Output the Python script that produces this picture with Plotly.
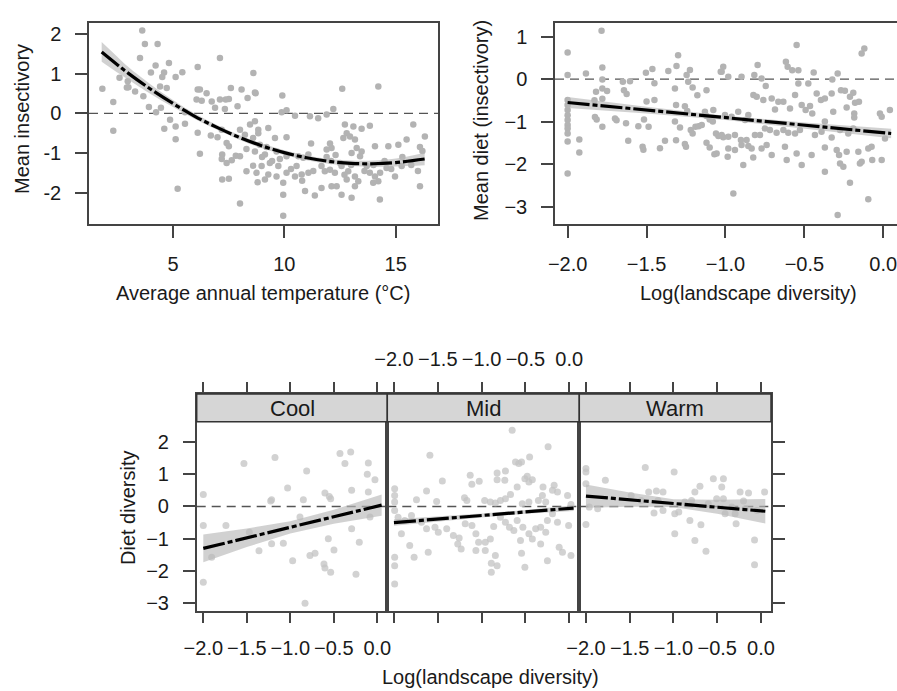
import plotly.graph_objects as go

# ---------------- data ----------------
# Panel A: mean insectivory vs average annual temperature
tl_x = [3.62,3.74,4.31,3.52,7.11,4.22,4.82,4.01,4.6,5.42,6.11,8.61,1.83,3.0,2.97,5.12,4.52,4.42,4.72,2.32,
        3.92,4.46,6.11,6.51,6.29,6.74,7.11,7.37,7.51,7.6,8.08,8.35,8.71,7.9,6.89,7.33,5.54,4.24,2.32,4.61,
        5.12,5.12,5.54,4.87,6.11,6.21,6.7,7.0,7.19,7.41,7.51,7.21,7.19,7.41,7.64,7.82,8.01,7.21,7.51,8.3,
        8.6,8.8,5.21,8.01,8.01,8.23,8.46,8.68,8.83,8.6,8.9,8.3,8.68,3.67,3.3,2.6,2.93,6.06,6.21,
        12.6,14.22,9.91,8.68,12.2,10.1,9.88,10.48,11.15,11.52,11.9,12.72,13.1,13.47,13.84,15.79,16.31,
        9.28,8.83,9.58,10.1,11.2,12.65,12.8,12.95,13.17,12.05,12.12,11.9,13.25,13.47,13.02,13.4,14.07,
        14.67,15.12,15.49,16.09,9.13,9.65,10.1,10.63,10.85,11.08,8.98,9.35,9.73,9.28,9.13,9.65,9.95,
        10.48,10.78,11.08,10.1,10.55,11.67,11.82,12.05,12.27,12.57,12.87,13.17,13.32,13.7,13.84,14.07,
        14.22,13.99,14.29,14.59,14.97,15.27,16.09,10.93,11.37,11.67,12.12,12.35,12.57,13.02,9.95,12.8,
        13.17,8.75,9.95,9.0,9.2,9.45,9.8,10.3,11.9,12.1,12.3,12.5,13.6,14.0,14.3,14.5,14.8,15.3,15.7,
        16.0,16.2,13.0,12.7,11.3,10.8]
tl_y = [2.09,1.75,1.75,1.40,1.40,1.21,1.27,1.03,1.03,1.04,1.17,1.02,0.62,0.66,0.81,0.92,0.92,0.68,0.64,0.29,
        0.16,0.14,0.60,0.51,0.32,0.30,0.35,0.35,0.36,0.64,0.60,0.39,0.51,0.18,0.14,0.11,0.03,0.03,-0.44,-0.39,
        -0.33,-0.65,-0.26,-0.16,-0.49,-1.02,-0.56,-0.6,-0.41,-0.75,-0.83,-1.04,-1.15,-1.25,-1.18,-1.07,-1.08,-1.67,-1.65,-1.46,
        -1.32,-1.74,-1.90,-2.27,-0.41,-0.54,-0.28,-0.2,-0.41,-0.62,-0.79,-0.9,-0.96,0.43,0.55,0.9,0.65,0.35,0.6,
        0.62,0.68,0.45,0.53,0.11,0.08,0.03,-0.06,-0.07,-0.12,-0.03,-0.28,-0.33,-0.39,-0.31,-0.28,-0.58,
        -0.37,-0.5,-0.62,-0.6,-0.76,-0.62,-0.5,-0.58,-0.66,-0.76,-0.87,-0.91,-0.87,-0.96,-1.0,-1.08,-0.83,
        -0.83,-0.79,-0.66,-0.85,-1.04,-0.96,-1.08,-1.08,-1.12,-1.04,-1.33,-1.25,-1.33,-1.54,-1.67,-1.59,-1.75,
        -1.59,-1.54,-1.5,-1.5,-1.33,-1.33,-1.46,-1.42,-1.5,-1.33,-1.46,-1.59,-1.71,-1.33,-1.5,-1.59,
        -1.71,-1.75,-2.17,-1.38,-1.59,-1.33,-1.84,-1.96,-2.07,-1.88,-1.84,-1.84,-2.05,-2.13,-2.58,-1.67,
        -1.84,-1.5,-2.05,-1.1,-0.85,-1.2,-1.15,-1.4,-1.1,-1.2,-1.05,-1.25,-1.45,-1.3,-1.5,-1.2,-1.4,-1.1,-1.3,
        -1.45,-0.95,-1.3,-1.55,-1.45,-1.7]
tl_fit_x = [1.8, 2.5, 3, 4, 5, 6, 7, 8, 9, 10, 11, 12, 13, 14, 15, 16.3]
tl_fit_y = [1.55, 1.23, 1.01, 0.61, 0.25, -0.08, -0.36, -0.61, -0.82, -0.99, -1.12, -1.21, -1.26, -1.27, -1.24, -1.15]
tl_fit_lo = [1.30, 1.03, 0.85, 0.49, 0.16, -0.15, -0.42, -0.67, -0.88, -1.05, -1.18, -1.27, -1.33, -1.35, -1.34, -1.31]
tl_fit_hi = [1.80, 1.43, 1.17, 0.73, 0.34, -0.01, -0.30, -0.55, -0.76, -0.93, -1.06, -1.15, -1.19, -1.19, -1.14, -0.99]

# Panel B: mean diet (insectivory) vs log landscape diversity
tr_x = [-1.785,-2.0,-2.0,-2.0,-2.0,-2.0,-2.0,-2.0,-2.0,-2.0,-2.0,-2.0,-2.0,-1.926,-1.926,-1.884,-1.78,
        -1.78,-1.78,-1.82,-1.75,-1.78,-1.83,-1.827,-1.816,-1.78,-1.65,-1.605,-1.643,-1.626,-1.7,-1.69,
        -1.63,-1.616,-1.552,-1.525,-1.52,-1.504,-1.463,-1.5,-1.45,-1.45,-1.516,-1.487,-1.415,-1.383,
        -1.362,-1.31,-1.3,-1.32,-1.313,-1.32,-1.288,-1.313,-1.257,-1.25,-1.246,-1.225,-1.236,-1.208,
        -1.178,-1.257,-1.242,-1.22,-1.208,-1.19,-1.17,-1.15,-1.12,-1.13,-1.12,-1.1,-1.12,-1.1,-1.07,
        -1.08,-1.06,-1.045,-1.014,-1.03,-1.014,-1.077,
        -0.549,-0.137,-0.12,-1.024,-0.982,-0.898,-0.817,-0.796,-0.771,-0.617,-0.606,-0.577,-0.538,
        -0.441,-0.289,-0.323,-0.745,-0.538,-0.475,-0.823,-0.802,-0.76,-0.707,-0.665,-0.633,-0.686,
        -0.591,-0.559,-0.517,-0.492,-0.464,-0.45,-0.422,-0.395,-0.37,-0.327,-0.268,-0.243,-0.211,-0.19,
        -0.179,-0.154,-0.317,-0.232,-0.184,-0.184,-0.021,-0.01,0.042,-1.003,-0.961,-0.919,-0.876,-0.855,
        -1.024,-0.982,-0.94,-0.902,-0.866,-0.813,-0.781,-0.75,-0.718,-0.676,-0.633,-0.602,-0.559,-0.528,
        -0.982,-0.94,-0.898,-0.855,-0.834,-0.771,-0.739,-1.056,-0.986,-0.887,-0.824,-0.707,-0.623,-0.612,
        -0.549,-0.517,-0.454,-0.37,-0.37,-0.295,-0.28,-0.274,-0.253,-0.232,-0.211,-0.158,-0.148,-0.137,
        -0.095,-0.074,-0.07,-0.01,-0.433,-0.391,-0.327,-0.274,-0.222,-0.19,-0.95,-0.095,-0.289,-0.37,0.011]
tr_y = [1.137,0.627,0.094,-0.49,-0.61,-0.73,-0.85,-0.96,-1.08,-1.16,-1.28,-1.47,-2.22,-1.42,-1.73,0.133,0.27,
        -0.01,-0.22,-0.3,-0.28,-0.46,-0.5,-0.89,-0.95,-1.12,-0.06,-0.05,-0.26,-0.35,-0.93,-0.97,
        -1.04,-1.45,-1.11,-1.59,-1.66,0.149,0.235,-0.53,-0.49,-0.1,-0.95,-1.12,-1.63,-1.45,
        0.188,0.306,0.564,-0.22,-0.61,-1.0,-1.14,-1.44,-1.53,-1.59,0.094,0.212,-0.06,-0.2,
        -0.38,-0.64,-0.75,-1.2,-1.28,-1.12,-1.11,-1.08,-0.26,-0.77,-0.87,-0.95,-1.5,-1.61,-1.77,
        -1.0,-1.28,-1.34,-1.37,0.17,0.29,-0.73,
        0.80,0.604,0.72,0.172,0.055,0.055,0.094,0.329,0.015,0.41,0.29,0.21,0.21,
        0.157,0.133,-0.008,-0.165,-0.102,-0.102,-0.377,-0.416,-0.49,-0.455,-0.534,-0.534,-0.714,
        -0.69,-0.377,-0.612,-0.73,-0.635,-0.808,-0.337,-0.494,-0.455,-0.337,-0.26,-0.275,-0.416,-0.322,
        -0.557,-0.533,-0.769,-0.667,-0.808,-0.902,-0.808,-0.886,-0.73,-0.847,-0.886,-0.769,-0.965,-0.847,
        -1.318,-1.357,-1.318,-1.436,-1.436,-1.318,-1.318,-1.16,-1.2,-1.263,-1.2,-1.263,-1.279,-1.2,
        -1.632,-1.67,-1.553,-1.577,-1.632,-1.632,-1.553,-1.75,-1.828,-2.024,-1.843,-1.788,-1.592,-1.906,
        -1.75,-2.024,-1.788,-1.608,-2.18,-1.67,-1.788,-1.984,-2.063,-1.71,-2.44,-1.71,-1.984,-1.945,
        -1.632,-1.592,-1.906,-1.906,-1.318,-1.239,-1.373,-1.2,-1.279,-1.161,-2.69,-2.83,-3.2,-1.0,-1.396]
tr_fit_x = [-2.0, -1.5, -1.0, -0.5, 0.05]
tr_fit_y = [-0.55, -0.73, -0.91, -1.09, -1.28]
tr_fit_lo = [-0.68, -0.81, -0.96, -1.16, -1.39]
tr_fit_hi = [-0.42, -0.65, -0.86, -1.02, -1.17]

# Panel C: diet diversity vs log landscape diversity, by temperature class
panel_names = ["Cool", "Mid", "Warm"]
cool_x = [-2.0,-2.0,-2.0,-1.904,-1.74,-1.533,-1.176,-1.471,-1.36,-1.226,-1.215,-1.215,-1.08,-1.031,-0.973,
          -0.85,-0.812,-0.831,-0.774,-0.716,-0.889,-0.602,-0.552,-0.536,-0.563,-0.613,-0.602,-0.536,-0.498,
          -0.429,-0.372,-0.306,-0.295,-0.295,-0.245,-0.207,-0.103,-0.115,-0.103,-0.027,-0.084]
cool_y = [0.373,-0.59,-2.35,-1.576,-0.59,1.327,1.514,-0.798,-1.37,0.166,0.207,-1.16,-1.14,0.57,-1.68,
          0.207,1.1,-3.0,-1.524,-1.45,-0.33,0.415,0.311,0.238,-1.0,-1.78,-1.91,-2.04,-1.35,
          1.64,1.327,1.69,0.498,-0.695,-2.1,-1.11,1.348,0.995,0.446,0.83,-0.33]
mid_x = [-1.59,-0.651,-0.241,-0.452,-0.613,-0.575,-0.544,-1.448,-1.13,-1.027,-1.111,-0.823,-0.728,-0.823,
         -0.735,-0.594,-0.506,-0.46,-0.421,-0.479,-0.299,-0.172,-0.134,-1.992,-1.992,-1.992,-1.992,-1.743,
         -1.628,-1.513,-1.195,-1.168,-0.965,-0.9,-0.843,-0.785,-0.728,-0.67,-0.536,-0.46,-0.352,-0.306,
         -0.268,-0.191,-0.019,0.02,-1.915,-1.82,-1.77,-1.992,-1.992,-1.992,-1.609,-1.953,-1.877,-1.8,
         -1.686,-1.628,-1.532,-1.494,-1.398,-1.322,-1.256,-1.233,-1.272,-1.187,-1.11,-1.065,-1.034,-1.065,
         -0.958,-0.958,-0.9,-0.862,-0.843,-0.889,-0.889,-0.823,-0.785,-0.728,-0.682,-0.594,-0.556,-0.544,
         -0.506,-0.421,-0.326,-0.326,-0.268,-0.249,-0.191,-0.134,-0.115,-0.077,-0.007,0.02,-0.249,-0.46,
         -0.383,-0.632,-0.529]
mid_y = [1.586,2.364,1.846,1.535,1.379,1.327,1.379,0.788,0.964,0.778,0.684,1.037,1.099,0.83,
         0.809,0.601,0.861,0.757,0.83,0.933,0.601,0.653,0.446,0.55,0.342,0.135,-0.125,0.207,
         0.477,0.156,0.27,0.187,0.187,0.135,0.104,0.187,0.238,0.373,0.083,0.135,0.187,0.342,
         0.135,0.498,0.342,0.062,-0.85,-1.213,-1.576,-1.576,-1.835,-2.405,-1.42,-0.332,-0.435,-0.28,
         -0.487,-0.695,-0.643,-0.798,-0.695,-0.902,-0.975,-1.317,-1.161,-0.539,-0.591,-0.85,-1.11,-1.368,
         -1.11,-1.368,-1.006,-0.622,-1.524,-1.763,-2.043,-1.835,-0.332,-0.487,-0.643,-0.435,-1.058,-1.452,
         -1.887,-1.006,-1.161,-0.643,-0.798,-0.435,-0.228,-0.487,-1.265,-1.42,-0.591,-1.524,-1.68,-0.85,
         -0.695,-0.747,-0.643]
warm_x = [-2.0,-2.0,-2.0,-2.0,-1.778,-1.322,-1.283,-1.195,-1.119,-0.992,-0.985,-1.222,-1.119,-0.985,-0.939,
          -0.812,-0.755,-0.686,-0.697,-0.755,-0.628,-0.544,-0.429,-0.448,-0.506,-0.429,-0.41,-0.284,-0.238,
          -0.142,-0.199,-0.073,-0.073,0.042,-1.483,-1.368,-1.176,-0.87,-0.793,-0.602,-0.333,-0.295,-0.18,
          -0.046,-1.962,-1.866]
warm_y = [1.172,1.068,0.705,-0.56,0.809,1.203,0.446,0.477,0.446,1.068,-0.85,-0.207,-0.125,-0.228,-0.176,
          -0.435,-1.058,-0.57,0.622,0.446,-1.39,0.861,0.861,0.601,0.238,0.238,-0.228,-0.54,0.446,
          0.415,0.166,-1.037,-1.804,0.446,0.342,0.187,0.187,0.135,0.187,0.083,-0.021,-0.228,-0.073,
          -0.125,-0.021,-0.073]
panel_x = [cool_x, mid_x, warm_x]
panel_y = [cool_y, mid_y, warm_y]
bot_fit_x = [-2.0, -1.5, -1.0, -0.5, 0.05]
bot_fit_y = [[-1.30, -0.97, -0.65, -0.32, 0.04],
             [-0.50, -0.39, -0.28, -0.17, -0.05],
             [0.32, 0.21, 0.10, -0.01, -0.15]]
bot_fit_half = [[0.43, 0.29, 0.19, 0.22, 0.33],
                [0.10, 0.07, 0.06, 0.06, 0.09],
                [0.36, 0.22, 0.12, 0.22, 0.38]]

temp_ticks = [5, 10, 15]
insect_ticks = [-2, -1, 0, 1, 2]
insect_ticktext = ["-2", "-1", "0", "1", "2"]
diet_ticks = [-3, -2, -1, 0, 1]
logdiv_ticks = [-2.0, -1.5, -1.0, -0.5, 0.0]
divers_ticks = [-3, -2, -1, 0, 1, 2]

# ---------------- styling ----------------
W, H = 897, 691
FONT = "Liberation Sans, Arial, Helvetica, sans-serif"
TXT = "#1a1a1a"
FRAME = "#444444"
PT_TOP = "#b3b3b3"
PT_BOT = "rgba(195,195,195,0.75)"
BAND = "rgba(185,185,185,0.65)"
FIT_DASH = "22px,3px,5px,3px"


def X(p):
    return p / W


def Y(p):
    return 1 - p / H


fig = go.Figure()


def add_panel(xa, ya, xs, ys, fx, fy, lo, hi, ptcol, ptsize, spline):
    shape = "spline" if spline else "linear"
    fig.add_trace(go.Scatter(x=xs, y=ys, mode="markers", xaxis=xa, yaxis=ya,
                             marker=dict(color=ptcol, size=ptsize, line=dict(width=0)),
                             showlegend=False, hoverinfo="skip"))
    fig.add_trace(go.Scatter(x=fx, y=lo, mode="lines", xaxis=xa, yaxis=ya,
                             line=dict(width=0, shape=shape), showlegend=False, hoverinfo="skip"))
    fig.add_trace(go.Scatter(x=fx, y=hi, mode="lines", xaxis=xa, yaxis=ya, fill="tonexty",
                             fillcolor=BAND, line=dict(width=0, shape=shape),
                             showlegend=False, hoverinfo="skip"))
    fig.add_trace(go.Scatter(x=fx, y=fy, mode="lines", xaxis=xa, yaxis=ya,
                             line=dict(color="black", width=3.2, dash=FIT_DASH, shape=shape),
                             showlegend=False, hoverinfo="skip"))


add_panel("x", "y", tl_x, tl_y, tl_fit_x, tl_fit_y, tl_fit_lo, tl_fit_hi, PT_TOP, 6.5, True)
add_panel("x2", "y2", tr_x, tr_y, tr_fit_x, tr_fit_y, tr_fit_lo, tr_fit_hi, PT_TOP, 6.5, False)
for i in range(3):
    lo = [a - b for a, b in zip(bot_fit_y[i], bot_fit_half[i])]
    hi = [a + b for a, b in zip(bot_fit_y[i], bot_fit_half[i])]
    add_panel("x%d" % (i + 3), "y%d" % (i + 3), panel_x[i], panel_y[i], bot_fit_x,
              bot_fit_y[i], lo, hi, PT_BOT, 7, False)

tickfont = dict(family=FONT, size=20, color=TXT)
common = dict(showgrid=False, zeroline=False, ticks="outside", tickfont=tickfont, automargin=False,
              linecolor=FRAME, linewidth=1.5, tickcolor=FRAME, tickwidth=1.5, showline=True,
              ticklabeloverflow="allow")

top_ydom = [Y(224), Y(23)]
bot_ydom = [Y(611), Y(394)]
bx = [(196.7, 387.3), (387.3, 579.3), (579.3, 771.0)]

layout = dict(
    template="none",
    width=W, height=H, margin=dict(l=0, r=0, t=0, b=0, pad=0), autosize=False,
    paper_bgcolor="white", plot_bgcolor="white",
    font=dict(family=FONT, size=20, color=TXT),
    xaxis=dict(domain=[X(89), X(438)], range=[1.23, 16.9], tickvals=temp_ticks, ticklen=12,
               mirror=True, anchor="y", ticklabelstandoff=9, **common),
    yaxis=dict(domain=top_ydom, range=[-2.79, 2.28], tickvals=insect_ticks, ticktext=insect_ticktext,
               ticklen=12, mirror=True, anchor="x", ticklabelstandoff=10, **common),
    xaxis2=dict(domain=[X(555), 1.0], range=[-2.08, 0.087], tickvals=logdiv_ticks, tickformat=".1f",
                ticklen=12, mirror=True, anchor="y2", ticklabelstandoff=9, **common),
    yaxis2=dict(domain=top_ydom, range=[-3.41, 1.32], tickvals=diet_ticks, ticklen=12,
                mirror=False, anchor="x2", ticklabelstandoff=10, **common),
)
for i in range(3):
    n = i + 3
    xd = dict(domain=[X(bx[i][0]), X(bx[i][1])], range=[-2.076, 0.115], tickvals=logdiv_ticks,
              tickformat=".1f", ticklen=10, anchor="y%d" % n, mirror="ticks",
              side="top" if i == 1 else "bottom", ticklabelstandoff=8, **common)
    yd = dict(domain=bot_ydom, range=[-3.24, 3.484], tickvals=divers_ticks, anchor="x%d" % n,
              mirror=True, ticklabelstandoff=10, **common)
    if i == 0:
        yd.update(ticklen=12, side="left")
    elif i == 1:
        yd.update(ticks="", showticklabels=False)
    else:
        yd.update(ticklen=12, side="right", showticklabels=False)
    layout["xaxis%d" % n] = xd
    layout["yaxis%d" % n] = yd

fig.update_layout(**layout)

shapes = []
# zero reference lines
for xa, ya in [("x", "y"), ("x2", "y2"), ("x3", "y3"), ("x4", "y4"), ("x5", "y5")]:
    shapes.append(dict(type="line", xref=xa + " domain", yref=ya, x0=0, x1=1, y0=0, y1=0,
                       line=dict(color="#555555", width=1.4, dash="9px,6px"), layer="below"))
# strips
for (a, b), name in zip(bx, panel_names):
    shapes.append(dict(type="rect", xref="paper", yref="paper", x0=X(a), x1=X(b), y0=Y(421.7), y1=Y(394),
                       fillcolor="#d6d6d6", line=dict(color="#333333", width=1.5), layer="above"))
fig.update_layout(shapes=shapes)

ann = []
for (a, b), name in zip(bx, panel_names):
    ann.append(dict(x=X((a + b) / 2), y=Y(408), xref="paper", yref="paper", text=name, showarrow=False,
                    font=dict(family=FONT, size=22, color=TXT), xanchor="center", yanchor="middle"))
titles = [
    ("Mean insectivory", 22, 119, -90),
    ("Average annual temperature (°C)", 263, 293, 0),
    ("Mean diet (insectivory)", 481, 121, -90),
    ("Log(landscape diversity)", 748, 293, 0),
    ("Diet diversity", 128, 508, -90),
    ("Log(landscape diversity)", 490, 677, 0),
]
for t, xp, yp, ang in titles:
    ann.append(dict(x=X(xp), y=Y(yp), xref="paper", yref="paper", text=t, showarrow=False,
                    textangle=ang, font=dict(family=FONT, size=20, color=TXT),
                    xanchor="center", yanchor="middle"))
fig.update_layout(annotations=ann)

fig.write_html("out.html", config={"displayModeBar": False},
               post_script="document.body.style.margin='0px';")
